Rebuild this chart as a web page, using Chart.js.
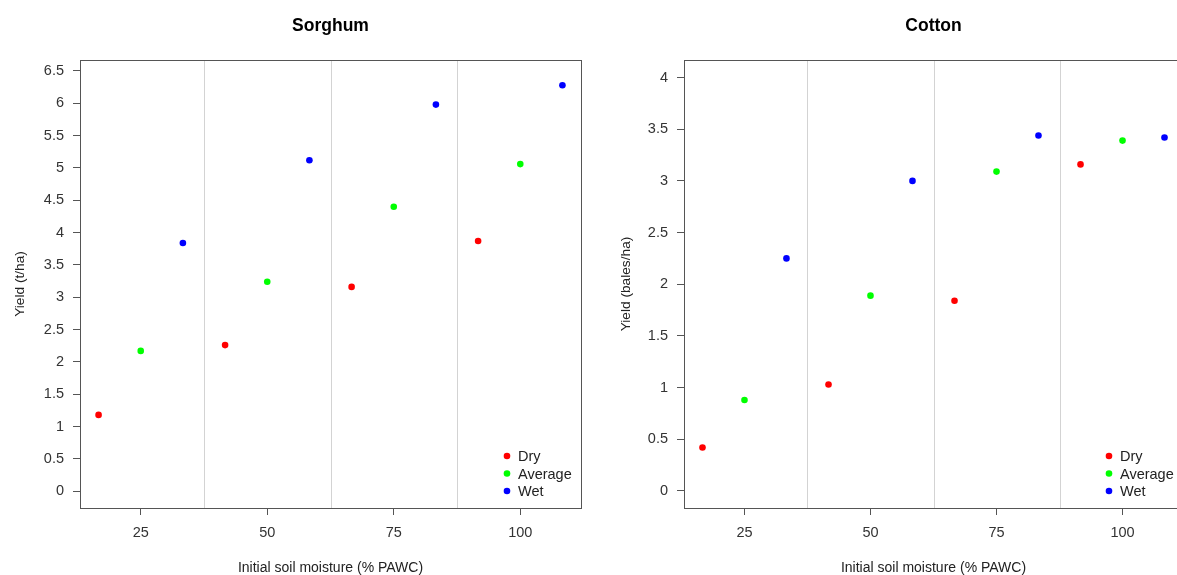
<!DOCTYPE html>
<html>
<head>
<meta charset="utf-8">
<script src="https://cdn.jsdelivr.net/npm/chart.js@4.4.1/dist/chart.umd.min.js"></script>
<style>
  html, body { margin: 0; padding: 0; background: #fff; overflow: hidden; }
  #wrap { position: relative; width: 1177px; height: 575px; overflow: hidden; }
  #sorghum { position: absolute; left: 0; top: 0; }
  #cotton { position: absolute; left: 590px; top: 0; }
</style>
</head>
<body>
<div id="wrap">
  <canvas id="sorghum" width="590" height="575"></canvas>
  <canvas id="cotton" width="602" height="575"></canvas>
</div>
<script>
// initial soil moisture (% PAWC) per season type
var dryX = [16.67, 41.67, 66.67, 91.67];
var avgX = [25, 50, 75, 100];
var wetX = [33.33, 58.33, 83.33, 108.33];

// sorghum yield (t/ha)
var sorghumDry = [1.18, 2.26, 3.16, 3.87];
var sorghumAvg = [2.17, 3.24, 4.40, 5.06];
var sorghumWet = [3.84, 5.12, 5.98, 6.28];

// cotton yield (bales/ha)
var cottonDry = [0.42, 1.03, 1.84, 3.16];
var cottonAvg = [0.88, 1.89, 3.09, 3.39];
var cottonWet = [2.25, 3.00, 3.44, 3.42];

var xTicks = [25, 50, 75, 100];
var sorghumTicks = [0, 0.5, 1, 1.5, 2, 2.5, 3, 3.5, 4, 4.5, 5, 5.5, 6, 6.5];
var cottonTicks = [0, 0.5, 1, 1.5, 2, 2.5, 3, 3.5, 4];
var dividers = [37.5, 62.5, 87.5];

var seriesNames = ["Dry", "Average", "Wet"];
var seriesColors = ["#ff0000", "#00ff00", "#0000ff"];

var FONT = "'Liberation Sans', Arial, sans-serif";

function pts(xs, ys) {
  return xs.map(function(x, i){ return {x: x, y: ys[i]}; });
}

// box + dividers drawn behind points, legend on top
var panelPlugin = {
  id: 'panel',
  beforeDatasetsDraw: function(chart) {
    var ctx = chart.ctx, a = chart.chartArea, xs = chart.scales.x;
    ctx.save();
    ctx.strokeStyle = '#d3d3d3';
    ctx.lineWidth = 1;
    dividers.forEach(function(d){
      var px = Math.round(xs.getPixelForValue(d)) + 0.5;
      ctx.beginPath();
      ctx.moveTo(px, a.top);
      ctx.lineTo(px, a.bottom);
      ctx.stroke();
    });
    ctx.strokeStyle = '#555';
    ctx.strokeRect(Math.round(a.left) + 0.5, Math.round(a.top) + 0.5,
                   Math.round(a.right - a.left), Math.round(a.bottom - a.top));
    ctx.restore();
  },
  afterDraw: function(chart) {
    var ctx = chart.ctx, a = chart.chartArea;
    ctx.save();
    ctx.font = '14.5px ' + FONT;
    ctx.textBaseline = 'middle';
    ctx.textAlign = 'left';
    chart.data.datasets.forEach(function(ds, i){
      var y = a.bottom - 52 + i * 17.5;
      var x = a.right - 74;
      ctx.fillStyle = ds.backgroundColor;
      ctx.beginPath();
      ctx.arc(x, y, 3.3, 0, Math.PI * 2);
      ctx.fill();
      ctx.fillStyle = '#222';
      ctx.fillText(ds.label, x + 11, y + 1);
    });
    ctx.restore();
  }
};

function makeChart(id, title, yTitle, ys, yTicks, yMin, yMax, yWidth, yTitlePad) {
  var datasets = ys.map(function(arr, i){
    var xs = [dryX, avgX, wetX][i];
    return {
      label: seriesNames[i],
      data: pts(xs, arr),
      backgroundColor: seriesColors[i],
      borderColor: seriesColors[i],
      pointRadius: 3.3,
      pointHoverRadius: 3.3,
      borderWidth: 0
    };
  });

  return new Chart(document.getElementById(id), {
    type: 'scatter',
    data: { datasets: datasets },
    plugins: [panelPlugin],
    options: {
      responsive: false,
      animation: false,
      devicePixelRatio: 1,
      layout: { padding: { left: 0, right: 9, top: 0, bottom: 0 } },
      plugins: {
        legend: { display: false },
        tooltip: { enabled: false },
        title: {
          display: true,
          text: title,
          fullSize: false,
          color: '#000',
          font: { family: FONT, size: 17.5, weight: 'bold' },
          padding: { top: 16, bottom: 23 }
        }
      },
      scales: {
        x: {
          type: 'linear',
          min: 13.0,
          max: 112.0,
          afterBuildTicks: function(s){ s.ticks = xTicks.map(function(v){ return {value: v}; }); },
          afterFit: function(s){ s.height = 67; },
          ticks: {
            color: '#333',
            font: { family: FONT, size: 14.5 },
            padding: 9,
            maxRotation: 0,
            callback: function(v){ return String(v); }
          },
          grid: { drawOnChartArea: false, tickLength: 7, color: '#555', tickColor: '#555' },
          border: { display: false },
          title: {
            display: true,
            text: 'Initial soil moisture (% PAWC)',
            color: '#222',
            font: { family: FONT, size: 14 },
            padding: { top: 0, bottom: -1.5 }
          }
        },
        y: {
          type: 'linear',
          min: yMin,
          max: yMax,
          afterBuildTicks: function(s){ s.ticks = yTicks.map(function(v){ return {value: v}; }); },
          afterFit: function(s){ s.width = yWidth; },
          ticks: {
            color: '#333',
            font: { family: FONT, size: 14.5 },
            padding: 9,
            callback: function(v){ return String(v); }
          },
          grid: { drawOnChartArea: false, tickLength: 7, color: '#555', tickColor: '#555' },
          border: { display: false },
          title: {
            display: true,
            text: yTitle,
            color: '#222',
            font: { family: FONT, size: 13.7 },
            padding: { top: yTitlePad, bottom: 0 }
          }
        }
      }
    }
  });
}

makeChart('sorghum', 'Sorghum', 'Yield (t/ha)',
  [sorghumDry, sorghumAvg, sorghumWet], sorghumTicks, -0.26, 6.67, 80, 11.8);
makeChart('cotton', 'Cotton', 'Yield (bales/ha)',
  [cottonDry, cottonAvg, cottonWet], cottonTicks, -0.165, 4.17, 94, 27.8);
</script>
</body>
</html>
